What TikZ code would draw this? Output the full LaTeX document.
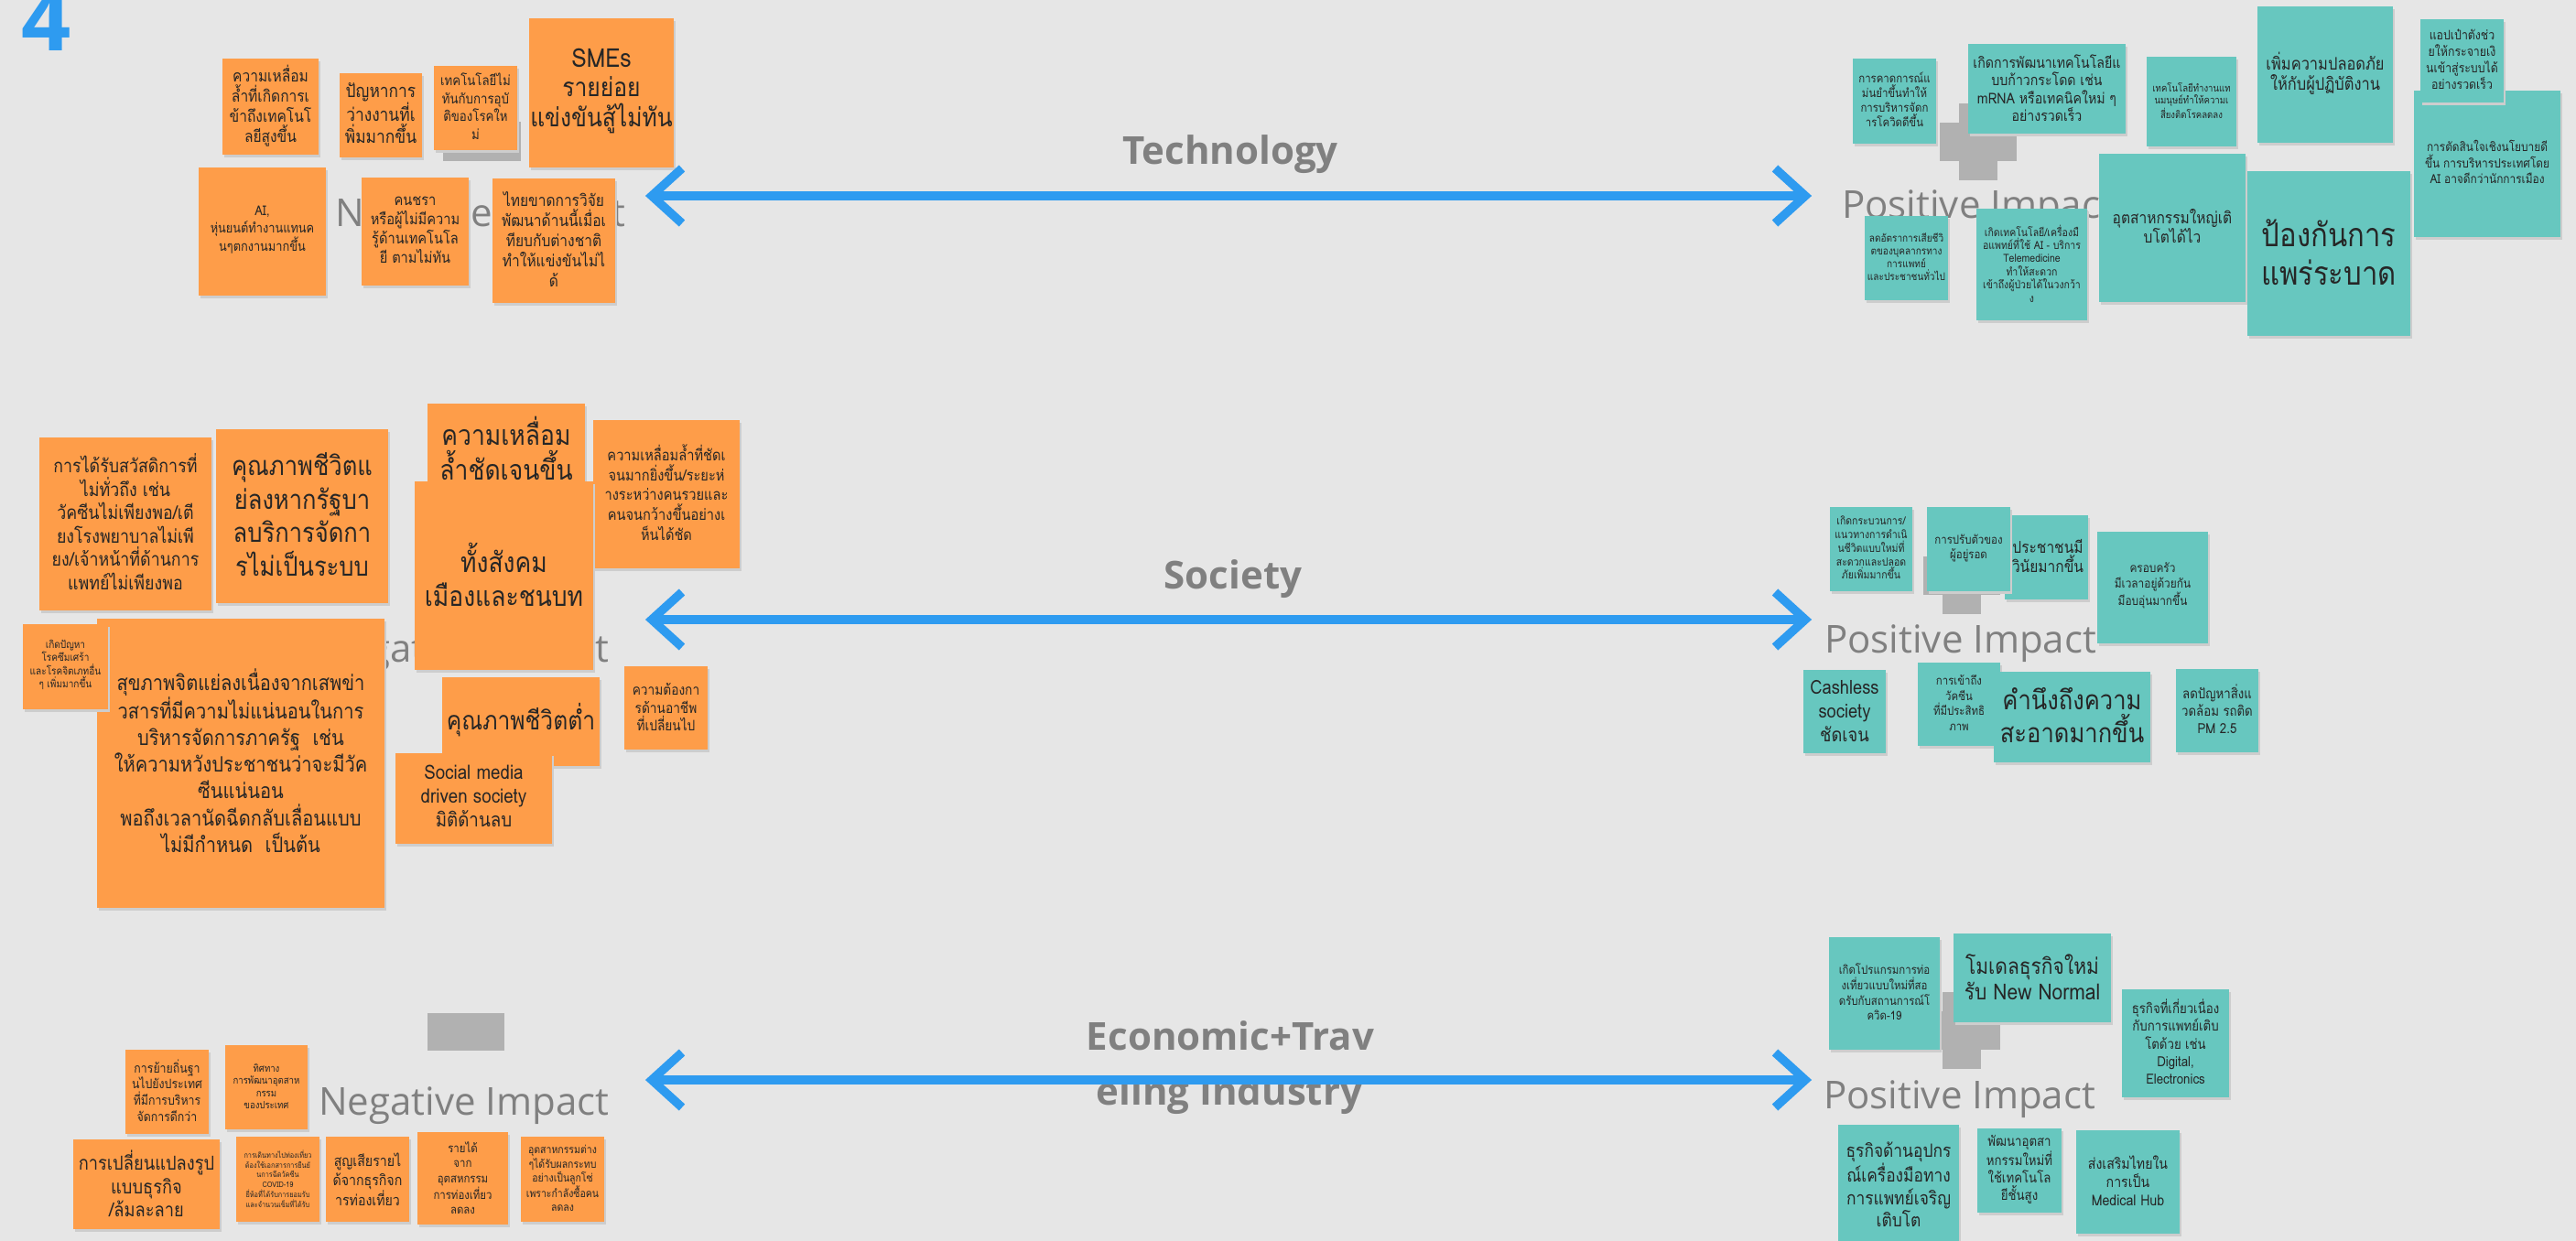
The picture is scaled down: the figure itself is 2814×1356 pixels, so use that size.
\documentclass[tikz,border=0pt]{standalone}
\usepackage{fontspec}
\newfontfamily\thai[Script=Thai, Scale=1.05, FakeStretch=0.87]{Loma}
\newfontfamily\osans{Open Sans}
\definecolor{bgc}{HTML}{E6E6E6}
\definecolor{orn}{HTML}{FE9D49}
\definecolor{tel}{HTML}{67C7BF}
\definecolor{blu}{HTML}{2E9BF0}
\definecolor{lbl}{HTML}{808080}
\definecolor{plc}{HTML}{B1B1B1}
\definecolor{shd}{HTML}{CDCDCD}
\definecolor{ntx}{HTML}{262626}
\newcommand\stk[5]{\fill[shd] (#2+1.5,#3+3) rectangle (#4+1.5,#5+3);\fill[#1] (#2,#3) rectangle (#4,#5);}
\newcommand\plusicon[2]{\fill[plc] (#1-21,#2-42) rectangle (#1+21,#2+42);\fill[plc] (#1-42,#2-21) rectangle (#1+42,#2+21);}
\begin{document}
\begin{tikzpicture}[x=1pt,y=-1pt,
  tx/.style 2 args={font={\thai\fontsize{#1}{#2}\selectfont}, align=center, inner sep=0pt, text=ntx},
  imp/.style={font={\osans\fontsize{42}{50}\selectfont}, text=lbl, inner sep=0pt, anchor=base west},
  topic/.style={font={\osans\bfseries\fontsize{42}{50}\selectfont}, text=lbl, inner sep=0pt, anchor=base},
  bline/.style={draw=blu, line width=9.5pt, line cap=butt},
  bhead/.style={draw=blu, line width=9.5pt, line cap=butt, line join=miter}]
\useasboundingbox (0,0) rectangle (2814,1356);
\fill[bgc] (0,0) rectangle (2814,1356);
\node[font={\osans\bfseries\fontsize{95}{100}\selectfont}, text=blu, inner sep=0pt, anchor=base west] (four) at (23,56) {4};

% ---------------- Technology: negative
\node[imp] (tneg) at (366,248) {Negative Impact};
\stk{orn}{243}{64}{348}{169}
\node[tx={17}{22}] (n1) at (295.5,115.5) {ความเหลื่อม\\ล้ำที่เกิดการเ\\ข้าถึงเทคโนโ\\ลยีสูงขึ้น};
\stk{orn}{371}{80}{461}{172}
\node[tx={19}{24}] (n2) at (416,124) {ปัญหาการ\\ว่างงานที่เ\\พิ่มมากขึ้น};
\fill[plc] (484,133) rectangle (569,176);
\stk{orn}{474}{72}{565}{164}
\node[tx={14.5}{19.5}] (n3) at (519.5,116) {เทคโนโลยีไม่\\ทันกับการอุบั\\ติของโรคให\\ม่};
\stk{orn}{578}{20}{736}{183}
\node[tx={27}{32.5}] (n4) at (657,99.5) {SMEs\\รายย่อย\\แข่งขันสู้ไม่ทัน};
\stk{orn}{217}{183}{356}{323}
\node[tx={14}{19}] (n5) at (286.5,251) {AI,\\หุ่นยนต์ทำงานแทนค\\นๆตกงานมากขึ้น};
\stk{orn}{395}{194}{512}{312}
\node[tx={16}{21}] (n6) at (453.5,251.5) {คนชรา\\หรือผู้ไม่มีความ\\รู้ด้านเทคโนโล\\ยี ตามไม่ทัน};
\stk{orn}{538}{195}{672}{331}
\node[tx={17}{22}] (n7) at (605,261) {ไทยขาดการวิจัย\\พัฒนาด้านนี้เมื่อเ\\ทียบกับต่างชาติ\\ทำให้แข่งขันไม่ไ\\ด้};

% ---------------- Technology: arrow and label
\node[topic] (ttech) at (1344,180) {Technology};
\coordinate (tL) at (712,214);
\coordinate (tR) at (1972,214);
\draw[bline] (tL) -- (tR);
\draw[bhead] ([shift={(33,-30)}]tL) -- (tL) -- ([shift={(33,30)}]tL);
\draw[bhead] ([shift={(-33,-30)}]tR) -- (tR) -- ([shift={(-33,30)}]tR);

% ---------------- Technology: positive
\node[imp] (tpos) at (2012,239) {Positive Impact};
\plusicon{2161}{155}
\stk{tel}{2024}{64}{2115}{157}
\node[tx={12.5}{16}] (p1) at (2069.5,109) {การคาดการณ์แ\\ม่นยำขึ้นทำให้\\การบริหารจัดก\\ารโควิดดีขึ้น};
\stk{tel}{2150}{48}{2322}{146}
\node[tx={15.5}{19.5}] (p2) at (2236,96) {เกิดการพัฒนาเทคโนโลยีแ\\บบก้าวกระโดด เช่น\\mRNA หรือเทคนิคใหม่ ๆ\\อย่างรวดเร็ว};
\stk{tel}{2345}{62}{2443}{160}
\node[tx={10.5}{13}] (p3) at (2394,110) {เทคโนโลยีทำงานแท\\นมนุษย์ทำให้ความเ\\สี่ยงติดโรคลดลง};
\stk{tel}{2466}{7}{2614}{156}
\node[tx={18}{22}] (p7) at (2540,80) {เพิ่มความปลอดภัย\\ให้กับผู้ปฏิบัติงาน};
\stk{tel}{2637}{99}{2797}{259}
\node[tx={13}{17.5}] (p9) at (2717,177) {การตัดสินใจเชิงนโยบายดี\\ขึ้น การบริหารประเทศโดย\\AI อาจดีกว่านักการเมือง};
\stk{tel}{2644}{21}{2735}{112}
\node[tx={13.5}{18}] (p10) at (2689.5,65) {แอปเป๋าตังช่ว\\ยให้กระจายเงิ\\นเข้าสู่ระบบได้\\อย่างรวดเร็ว};
\stk{tel}{2293}{168}{2453}{330}
\node[tx={17}{21}] (p4) at (2373,247) {อุตสาหกรรมใหญ่เติ\\บโตได้ไว};
\stk{tel}{2037}{236}{2128}{328}
\node[tx={11}{14}] (p5) at (2082.5,281) {ลดอัตราการเสียชีวิ\\ตของบุคลากรทาง\\การแพทย์\\และประชาชนทั่วไป};
\stk{tel}{2159}{228}{2280}{350}
\node[tx={11.5}{14.4}] (p6) at (2219.5,288) {เกิดเทคโนโลยี/เครื่องมื\\อแพทย์ที่ใช้ AI - บริการ\\Telemedicine\\ทำให้สะดวก\\เข้าถึงผู้ป่วยได้ในวงกว้า\\ง};
\stk{tel}{2455}{187}{2633}{367}
\node[tx={34}{42}] (p8) at (2544,276) {ป้องกันการ\\แพร่ระบาด};

% ---------------- Society: negative
\node[imp] (sneg) at (348,723) {Negative Impact};
\stk{orn}{43}{478}{231}{667}
\node[tx={19.5}{25.6}] (s1) at (137,570) {การได้รับสวัสดิการที่\\ไม่ทั่วถึง เช่น\\วัคซีนไม่เพียงพอ/เตี\\ยงโรงพยาบาลไม่เพี\\ยง/เจ้าหน้าที่ด้านการ\\แพทย์ไม่เพียงพอ};
\stk{orn}{236}{469}{424}{659}
\node[tx={28}{36.7}] (s2) at (330,562) {คุณภาพชีวิตแ\\ย่ลงหากรัฐบา\\ลบริการจัดกา\\รไม่เป็นระบบ};
\stk{orn}{106}{676}{420}{992}
\node[tx={22}{29.2}] (s4) at (263,831) {สุขภาพจิตแย่ลงเนื่องจากเสพข่า\\วสารที่มีความไม่แน่นอนในการ\\บริหารจัดการภาครัฐ~~เช่น\\ให้ความหวังประชาชนว่าจะมีวัค\\ซีนแน่นอน\\พอถึงเวลานัดฉีดกลับเลื่อนแบบ\\ไม่มีกำหนด~~เป็นต้น};
\stk{orn}{25}{682}{118}{775}
\node[tx={11}{14.4}] (s3) at (71.5,726.5) {เกิดปัญหา\\โรคซึมเศร้า\\และโรคจิตเภทอื่น\\ๆ เพิ่มมากขึ้น};
\stk{orn}{467}{441}{639}{560}
\node[tx={29}{38}] (s5) at (553,490) {ความเหลื่อม\\ล้ำชัดเจนขึ้น};
\stk{orn}{648}{459}{808}{621}
\node[tx={16}{21.7}] (s7) at (728,538) {ความเหลื่อมล้ำที่ชัดเ\\จนมากยิ่งขึ้น/ระยะห่\\างระหว่างคนรวยและ\\คนจนกว้างขึ้นอย่างเ\\ห็นได้ชัด};
\stk{orn}{453}{526}{648}{732}
\node[tx={29}{37}] (s6) at (550.5,627.5) {ทั้งสังคม\\เมืองและชนบท};
\stk{orn}{483}{740}{655}{837}
\node[tx={27}{32}] (s8) at (569,787) {คุณภาพชีวิตต่ำ};
\stk{orn}{432}{823}{603}{922}
\node[tx={20.5}{26}] (s9) at (517.5,870) {Social media\\driven society\\มิติด้านลบ};
\stk{orn}{682}{728}{773}{819}
\node[tx={15}{19.6}] (s10) at (727.5,772.5) {ความต้องกา\\รด้านอาชีพ\\ที่เปลี่ยนไป};

% ---------------- Society: arrow and label
\node[topic] (tsoc) at (1347,643) {Society};
\coordinate (sL) at (712,677);
\coordinate (sR) at (1972,677);
\draw[bline] (sL) -- (sR);
\draw[bhead] ([shift={(33,-30)}]sL) -- (sL) -- ([shift={(33,30)}]sL);
\draw[bhead] ([shift={(-33,-30)}]sR) -- (sR) -- ([shift={(-33,30)}]sR);

% ---------------- Society: positive
\node[imp] (spos) at (1993,713) {Positive Impact};
\plusicon{2143}{629}
\stk{tel}{1999}{554}{2089}{646}
\node[tx={11.5}{14.8}] (r1) at (2044,598.5) {เกิดกระบวนการ/\\แนวทางการดำเนิ\\นชีวิตแบบใหม่ที่\\สะดวกและปลอด\\ภัยเพิ่มมากขึ้น};
\stk{tel}{2190}{563}{2281}{655}
\node[tx={17}{21.7}] (r3) at (2237,607.5) {ประชาชนมี\\วินัยมากขึ้น};
\stk{tel}{2105}{554}{2196}{646}
\node[tx={12.5}{16}] (r2) at (2150.5,599) {การปรับตัวของ\\ผู้อยู่รอด};
\stk{tel}{2291}{581}{2412}{703}
\node[tx={13}{16.7}] (r4) at (2351.5,640) {ครอบครัว\\มีเวลาอยู่ด้วยกัน\\มีอบอุ่นมากขึ้น};
\stk{tel}{1970}{732}{2060}{823}
\node[tx={20}{26}] (r5) at (2015,777) {Cashless\\society\\ชัดเจน};
\stk{tel}{2095}{724}{2185}{815}
\node[tx={12.5}{16.7}] (r6) at (2140,768) {การเข้าถึง\\วัคซีน\\ที่มีประสิทธิ\\ภาพ};
\stk{tel}{2178}{734}{2349}{833}
\node[tx={28}{36}] (r7) at (2263.5,782) {คำนึงถึงความ\\สะอาดมากขึ้น};
\stk{tel}{2377}{731}{2467}{822}
\node[tx={14.5}{19}] (r8) at (2422,775) {ลดปัญหาสิ่งแ\\วดล้อม รถติด\\PM 2.5};

% ---------------- Economic: negative
\fill[plc] (467,1107) rectangle (551,1148);
\node[imp] (eneg) at (348,1218) {Negative Impact};
\stk{orn}{137}{1147}{228}{1239}
\node[tx={13.5}{17.7}] (e1) at (182.5,1191.5) {การย้ายถิ่นฐา\\นไปยังประเทศ\\ที่มีการบริหาร\\จัดการดีกว่า};
\stk{orn}{246}{1142}{336}{1234}
\node[tx={10.5}{13.5}] (e2) at (291,1187) {ทิศทาง\\การพัฒนาอุตสาห\\กรรม\\ของประเทศ};
\stk{orn}{80}{1245}{240}{1343}
\node[tx={20}{25.5}] (e3) at (160,1293.5) {การเปลี่ยนแปลงรูป\\แบบธุรกิจ\\/ล้มละลาย};
\stk{orn}{258}{1242}{349}{1335}
\node[tx={8}{10.8}] (e4) at (303.5,1288) {การเดินทางไปท่องเที่ยว\\ต้องใช้เอกสารการยืนยั\\นการฉีดวัคซีน\\COVID-19\\ยี่ห้อที่ได้รับการยอมรับ\\และจำนวนเข็มที่ได้รับ};
\stk{orn}{356}{1242}{447}{1335}
\node[tx={15.5}{20.5}] (e5) at (401.5,1288.5) {สูญเสียรายไ\\ด้จากธุรกิจก\\ารท่องเที่ยว};
\stk{orn}{456}{1237}{555}{1338}
\node[tx={12.5}{16.5}] (e6) at (505.5,1287) {รายได้\\จาก\\อุตสหกรรม\\การท่องเที่ยว\\ลดลง};
\stk{orn}{569}{1242}{660}{1335}
\node[tx={11.5}{15.2}] (e7) at (614.5,1287.5) {อุตสาหกรรมต่าง\\ๆได้รับผลกระทบ\\อย่างเป็นลูกโซ่\\เพราะกำลังซื้อคน\\ลดลง};

% ---------------- Economic: label and arrow
\node[topic] (tec1) at (1344,1147) {Economic+Trav};
\node[topic] (tec2) at (1343,1207) {eling Industry};
\coordinate (eL) at (712,1180);
\coordinate (eR) at (1972,1180);
\draw[bline] (eL) -- (eR);
\draw[bhead] ([shift={(33,-30)}]eL) -- (eL) -- ([shift={(33,30)}]eL);
\draw[bhead] ([shift={(-33,-30)}]eR) -- (eR) -- ([shift={(-33,30)}]eR);

% ---------------- Economic: positive
\node[imp] (epos) at (1992,1211) {Positive Impact};
\plusicon{2143}{1126}
\stk{tel}{1998}{1024}{2119}{1147}
\node[tx={12.5}{16.7}] (q1) at (2058.5,1084) {เกิดโปรแกรมการท่อ\\งเที่ยวแบบใหม่ที่สอ\\ดรับกับสถานการณ์โ\\ควิด-19};
\stk{tel}{2134}{1020}{2306}{1117}
\node[tx={23}{28.5}] (q2) at (2220,1067.5) {โมเดลธุรกิจใหม่\\รับ New Normal};
\stk{tel}{2318}{1081}{2435}{1199}
\node[tx={14.5}{19.3}] (q3) at (2376.5,1138.5) {ธุรกิจที่เกี่ยวเนื่อง\\กับการแพทย์เติบ\\โตด้วย เช่น\\Digital,\\Electronics};
\stk{tel}{2008}{1229}{2140}{1362}
\node[tx={19}{24.5}] (q4) at (2074,1294.5) {ธุรกิจด้านอุปกร\\ณ์เครื่องมือทาง\\การแพทย์เจริญ\\เติบโต};
\stk{tel}{2160}{1233}{2252}{1325}
\node[tx={14.5}{19.3}] (q5) at (2206,1278) {พัฒนาอุตสา\\หกรรมใหม่ที่\\ใช้เทคโนโล\\ยีชั้นสูง};
\stk{tel}{2268}{1235}{2381}{1348}
\node[tx={15.5}{20}] (q6) at (2324.5,1290) {ส่งเสริมไทยใน\\การเป็น\\Medical Hub};
\end{tikzpicture}
\end{document}
